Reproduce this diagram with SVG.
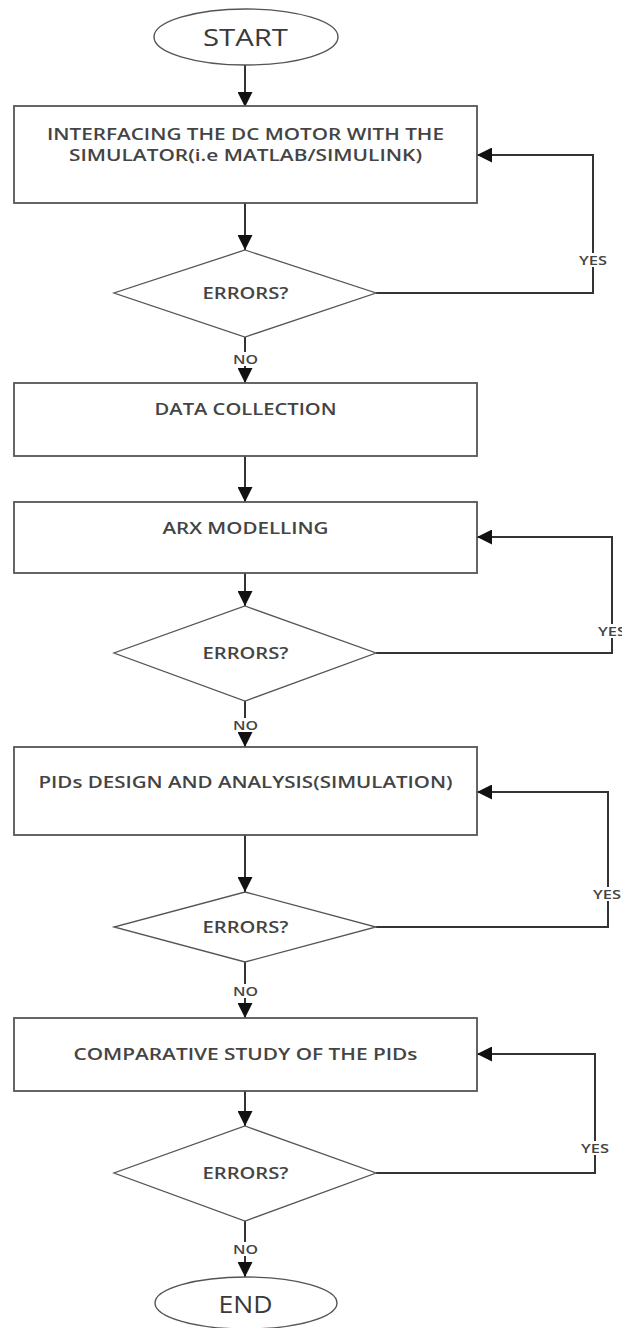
<svg xmlns="http://www.w3.org/2000/svg" width="622" height="1328" viewBox="0 0 622 1328">
  <style>
    .box { fill: #ffffff; stroke: #555555; stroke-width: 1.8; }
    .term { fill: #ffffff; stroke: #555555; stroke-width: 1.4; }
    .dec { fill: #ffffff; stroke: #555555; stroke-width: 1.3; }
    .edge { fill: none; stroke: #333333; stroke-width: 2; }
    .txt { font-family: "Open Sans", "Liberation Sans", sans-serif; fill: #3a3a3a; text-anchor: middle; }
    .big { font-size: 24px; }
    .lbl { font-size: 16px; font-weight: 600; fill: #444444; }
    .tag { font-size: 12px; font-weight: 600; fill: #444444; }
    .gap { fill: #ffffff; }
  </style>
  <defs>
    <marker id="arrow" viewBox="0 0 15 15" markerWidth="15" markerHeight="15" refX="15" refY="7.5" orient="auto" markerUnits="userSpaceOnUse">
      <path d="M0,0 L15,7.5 L0,15 z" fill="#111111"/>
    </marker>
  </defs>
  <rect width="622" height="1328" fill="#ffffff"/>

  <!-- connectors -->
  <g id="connectors">
    <path class="edge" d="M245,65 L245,107" marker-end="url(#arrow)"/>
    <path class="edge" d="M245,203 L245,250" marker-end="url(#arrow)"/>
    <path class="edge" d="M245,337 L245,383" marker-end="url(#arrow)"/>
    <path class="edge" d="M245,456 L245,502" marker-end="url(#arrow)"/>
    <path class="edge" d="M245,573 L245,606" marker-end="url(#arrow)"/>
    <path class="edge" d="M245,701 L245,747" marker-end="url(#arrow)"/>
    <path class="edge" d="M245,835 L245,892" marker-end="url(#arrow)"/>
    <path class="edge" d="M245,962 L245,1018" marker-end="url(#arrow)"/>
    <path class="edge" d="M245,1091 L245,1126" marker-end="url(#arrow)"/>
    <path class="edge" d="M245,1221 L245,1277" marker-end="url(#arrow)"/>
    <!-- retry loops -->
    <path class="edge" d="M376,293 L593,293 L593,155 L477,155" marker-end="url(#arrow)"/>
    <path class="edge" d="M376,653 L612,653 L612,537 L477,537" marker-end="url(#arrow)"/>
    <path class="edge" d="M376,927 L608,927 L608,792 L477,792" marker-end="url(#arrow)"/>
    <path class="edge" d="M376,1173 L595,1173 L595,1054 L477,1054" marker-end="url(#arrow)"/>
    <!-- branch labels -->
    <rect class="gap" x="231" y="352" width="29" height="14"/>
    <text class="txt tag" x="245.5" y="364" textLength="25" lengthAdjust="spacingAndGlyphs">NO</text>
    <rect class="gap" x="231" y="718" width="29" height="14"/>
    <text class="txt tag" x="245.5" y="730" textLength="25" lengthAdjust="spacingAndGlyphs">NO</text>
    <rect class="gap" x="231" y="984" width="29" height="14"/>
    <text class="txt tag" x="245.5" y="996" textLength="25" lengthAdjust="spacingAndGlyphs">NO</text>
    <rect class="gap" x="231" y="1242" width="29" height="14"/>
    <text class="txt tag" x="245.5" y="1254" textLength="25" lengthAdjust="spacingAndGlyphs">NO</text>
    <rect class="gap" x="577" y="253" width="32" height="14"/>
    <text class="txt tag" x="593" y="265" textLength="28" lengthAdjust="spacingAndGlyphs">YES</text>
    <rect class="gap" x="596" y="624" width="26" height="14"/>
    <text class="txt tag" x="612" y="636" textLength="28" lengthAdjust="spacingAndGlyphs">YES</text>
    <rect class="gap" x="592" y="887" width="30" height="14"/>
    <text class="txt tag" x="607" y="899" textLength="28" lengthAdjust="spacingAndGlyphs">YES</text>
    <rect class="gap" x="579" y="1141" width="32" height="14"/>
    <text class="txt tag" x="595" y="1153" textLength="28" lengthAdjust="spacingAndGlyphs">YES</text>
  </g>

  <g id="start">
    <ellipse class="term" cx="246" cy="37" rx="92" ry="28"/>
    <text class="txt big" x="245.5" y="46" textLength="85" lengthAdjust="spacingAndGlyphs">START</text>
  </g>

  <g id="interfacing">
    <rect class="box" x="14" y="106" width="463" height="97"/>
    <text class="txt lbl" x="245.5" y="140" textLength="397" lengthAdjust="spacingAndGlyphs">INTERFACING THE DC MOTOR WITH THE</text>
    <text class="txt lbl" x="245.5" y="161" textLength="353" lengthAdjust="spacingAndGlyphs">SIMULATOR(i.e MATLAB/SIMULINK)</text>
  </g>

  <g id="errors1">
    <polygon class="dec" points="245,250 376,293 245,337 114,293"/>
    <text class="txt lbl" x="245.5" y="299" textLength="86" lengthAdjust="spacingAndGlyphs">ERRORS?</text>
  </g>

  <g id="data-collection">
    <rect class="box" x="14" y="383" width="463" height="73"/>
    <text class="txt lbl" x="245.5" y="415" textLength="182" lengthAdjust="spacingAndGlyphs">DATA COLLECTION</text>
  </g>

  <g id="arx-modelling">
    <rect class="box" x="14" y="502" width="463" height="71"/>
    <text class="txt lbl" x="245.5" y="534" textLength="166" lengthAdjust="spacingAndGlyphs">ARX MODELLING</text>
  </g>

  <g id="errors2">
    <polygon class="dec" points="245,606 376,653 245,701 114,653"/>
    <text class="txt lbl" x="245.5" y="659" textLength="86" lengthAdjust="spacingAndGlyphs">ERRORS?</text>
  </g>

  <g id="pid-design">
    <rect class="box" x="14" y="747" width="463" height="88"/>
    <text class="txt lbl" x="245.5" y="788" textLength="414" lengthAdjust="spacingAndGlyphs">PIDs DESIGN AND ANALYSIS(SIMULATION)</text>
  </g>

  <g id="errors3">
    <polygon class="dec" points="245,892 376,927 245,962 114,927"/>
    <text class="txt lbl" x="245.5" y="933" textLength="86" lengthAdjust="spacingAndGlyphs">ERRORS?</text>
  </g>

  <g id="comparative-study">
    <rect class="box" x="14" y="1018" width="463" height="73"/>
    <text class="txt lbl" x="245.5" y="1060" textLength="344" lengthAdjust="spacingAndGlyphs">COMPARATIVE STUDY OF THE PIDs</text>
  </g>

  <g id="errors4">
    <polygon class="dec" points="245,1126 376,1173 245,1221 114,1173"/>
    <text class="txt lbl" x="245.5" y="1179" textLength="86" lengthAdjust="spacingAndGlyphs">ERRORS?</text>
  </g>

  <g id="end">
    <ellipse class="term" cx="246" cy="1303" rx="91" ry="26"/>
    <text class="txt big" x="245.5" y="1313" textLength="54" lengthAdjust="spacingAndGlyphs">END</text>
  </g>
</svg>
